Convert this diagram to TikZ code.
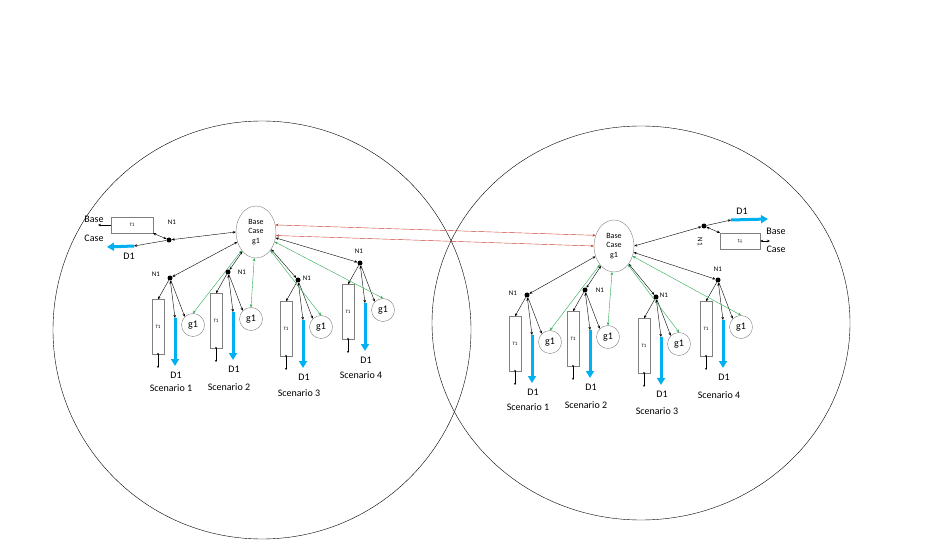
\documentclass[tikz,border=0pt]{standalone}
\usepackage{fontspec}
\setmainfont{Carlito}
\usetikzlibrary{arrows.meta}
\usetikzlibrary{shapes.geometric}
\usetikzlibrary{positioning}
\definecolor{dblue}{RGB}{0,176,240}
\definecolor{lred}{RGB}{200,60,50}
\definecolor{lgreen}{RGB}{40,170,80}

\begin{document}
\begin{tikzpicture}[x=1pt,y=-1pt,>={Stealth[length=3pt,width=2.5pt]},
    thin,base node/.style={ellipse,draw=gray,inner sep=0pt,minimum width=40pt,minimum height=52pt,font=\fontsize{8}{9.5}\selectfont,align=center},
    dot node/.style={circle,fill=black,inner sep=0pt,minimum size=5pt},
    gen node/.style={circle,draw=gray,inner sep=0pt,minimum size=23pt,font=\fontsize{10}{11}\selectfont},
    tbox/.style={draw=gray,inner sep=0pt,font=\fontsize{5}{6}\selectfont},
    lbl/.style={font=\fontsize{10}{11}\selectfont,inner sep=1pt},
    demand/.style={dblue,line width=3pt,-{Triangle[length=7pt,width=8pt]}}]
  \useasboundingbox (0,0) rectangle (926,545);
  % the two areas
  \draw (262,330) circle [radius=209];
  \draw (641,323) ellipse [x radius=209,y radius=197];
  % base cases
  \node[base node] (lb) at (256,232) {Base\\Case\\g1};
  \node[base node] (rb) at (614,246) {Base\\Case\\g1};
  \draw[lred,<->] (lb.20) -- (rb.150);
  \draw[lred,<->] (lb.-10) -- (rb.180);
  % left base connection
  \node[dot node] (ld) at (169,240) {};
  \node[lbl,font=\fontsize{7}{8}\selectfont] at (172,222) {N1};
  \node[tbox,minimum width=42pt,minimum height=16pt] (lt) at (132,225) {T1};
  \node[lbl] (lbase) at (94,219) {Base};
  \node[lbl] at (94,238) {Case};
  \coordinate (lte) at (98,225);
  \draw[->] (lt.west) -- (lte);
  \coordinate (lds) at (134,246);
  \coordinate (lde) at (107,247);
  \draw[demand] (lds) -- (lde);
  \node[lbl] at (129,256) {D1};
  \draw[<->] (ld) -- (lb.west);
  \draw[<->] (ld) -- (lt.south east);
  \draw[<-] (lds) -- (ld);
  % right base connection
  \node[dot node] (rd) at (704,226) {};
  \node[lbl,font=\fontsize{7}{8}\selectfont,rotate=-90] at (700,242) {N1};
  \node[tbox,minimum width=40pt,minimum height=16pt,rotate=180] (rt) at (740,241) {T1};
  \node[lbl] at (776,231) {Base};
  \node[lbl] at (776,249) {Case};
  \coordinate (rte) at (770,241);
  \draw[<->] (rt.west) -- (rte);
  \coordinate (rds) at (731,220);
  \coordinate (rde) at (768,219);
  \draw[demand] (rds) -- (rde);
  \node[lbl] at (742,211) {D1};
  \draw[<->] (rd) -- (rb.east);
  \draw[<->] (rd) -- (rt.south east);
  \draw[->] (rd) -- (rds);
  % scenarios
  \foreach \s/\b/\x/\y/\n/\nx/\ny/\sy in {
      l/lb/170/278/1/-14/-4/110, l/lb/228/272/2/14/0/115, l/lb/298/280/3/9/-2/113, l/lb/360/263/4/-1/-12/112,
      r/rb/527/295/1/-14/-2/112, r/rb/585/290/2/15/0/115, r/rb/656/297/3/8/-2/114, r/rb/718/280/4/0/-11/115} {
    \node[dot node] (\s n\n) at (\x,\y) {};
    \node[lbl,font=\fontsize{7}{8}\selectfont] at (\x+\nx,\y+\ny) {N1};
    \node[tbox,minimum width=12pt,minimum height=55pt] (\s t\n) at (\x-12,\y+49) {T1};
    \node[gen node] (\s g\n) at (\x+23,\y+47) {g1};
    \coordinate (\s ds\n) at (\x+5,\y+40);
    \coordinate (\s de\n) at (\x+5,\y+88);
    \draw[demand] (\s ds\n) -- (\s de\n);
    \node[lbl] at (\x+6,\y+97) {D1};
    \node[lbl] at (\x+1,\y+\sy) {Scenario \n};
    \coordinate (\s te\n) at (\x-12,\y+90);
    \draw[{Stealth[length=2pt,width=2pt]}-{Stealth[length=2pt,width=2pt]}] ([yshift=2pt]\s t\n.south) -- (\s te\n);
    \draw[<->] (\b) -- (\s n\n);
    \draw[->] (\s n\n) -- (\s t\n.north);
    \draw[<->] (\s n\n) -- (\s ds\n);
    \draw[->] (\s n\n) -- (\s g\n.north west);
    \draw[lgreen,<->] (\s g\n.north) -- (\b);
  }
\end{tikzpicture}
\end{document}
